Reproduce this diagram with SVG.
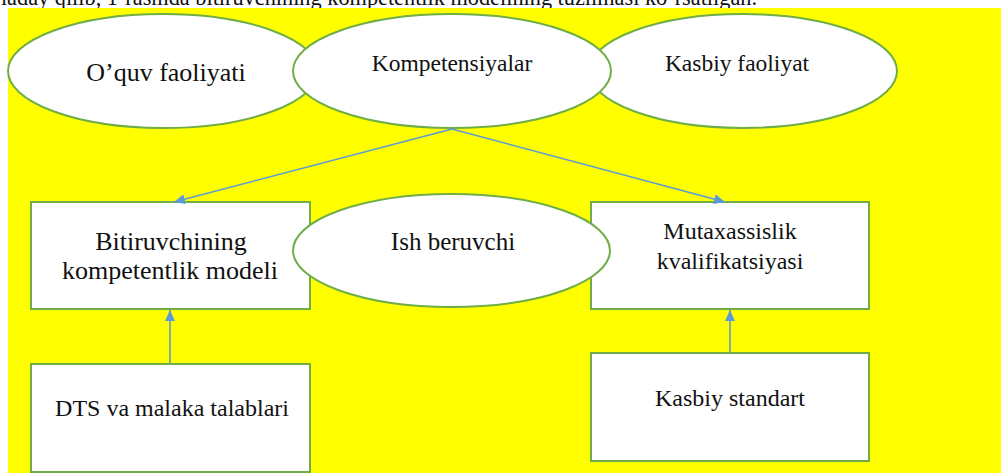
<svg xmlns="http://www.w3.org/2000/svg" width="1001" height="473" viewBox="0 0 1001 473">
<style>
.sh{fill:#fff;stroke:#70AD47;stroke-width:2}
.t{font-family:'Liberation Serif','Times New Roman',serif;fill:#111;text-anchor:middle}
.cn{stroke:#5B9BD5;stroke-width:1.6;fill:none;marker-end:url(#ah)}
</style>
<defs>
<marker id="ah" markerUnits="userSpaceOnUse" markerWidth="12" markerHeight="10" refX="11" refY="5" orient="auto">
<path d="M0,0 L11,5 L0,10 z" fill="#5B9BD5"/>
</marker>
</defs>
<rect width="1001" height="473" fill="#fff"/>
<text class="t" x="757" y="5" font-size="22.3" style="text-anchor:end">laday qilib, 1-rasmda bitiruvchining kompetentlik modelining tuzilmasi ko’rsatilgan.</text>
<rect x="8" y="8" width="993" height="465" fill="#FFFF00"/>
<g id="oquv">
<ellipse class="sh" cx="163" cy="71" rx="155" ry="57"/>
<text class="t" x="166" y="81" font-size="26">O’quv faoliyati</text>
</g>
<g id="kasbiy-faoliyat">
<ellipse class="sh" cx="743" cy="71" rx="154" ry="57"/>
<text class="t" x="737" y="71" font-size="23.5">Kasbiy faoliyat</text>
</g>
<g id="kompetensiyalar">
<ellipse class="sh" cx="452" cy="71" rx="159" ry="57"/>
<text class="t" x="452" y="71" font-size="23.5">Kompetensiyalar</text>
</g>
<g id="bitiruvchi">
<rect class="sh" x="31" y="202" width="279" height="107"/>
<text class="t" x="171" y="250" font-size="26">Bitiruvchining</text>
<text class="t" x="170" y="279" font-size="26">kompetentlik modeli</text>
</g>
<g id="mutaxassislik">
<rect class="sh" x="591" y="202" width="278" height="107"/>
<text class="t" x="730" y="239" font-size="24">Mutaxassislik</text>
<text class="t" x="730" y="269" font-size="24">kvalifikatsiyasi</text>
</g>
<g id="ish-beruvchi">
<ellipse class="sh" cx="451.5" cy="250.5" rx="158.5" ry="56.5"/>
<text class="t" x="453" y="250" font-size="25">Ish beruvchi</text>
</g>
<g id="dts">
<rect class="sh" x="31" y="364" width="279" height="108"/>
<text class="t" x="172" y="416" font-size="24">DTS va malaka talablari</text>
</g>
<g id="kasbiy-standart">
<rect class="sh" x="591" y="353" width="278" height="108"/>
<text class="t" x="730" y="406" font-size="24">Kasbiy standart</text>
</g>
<g id="connectors">
<line class="cn" x1="452" y1="129" x2="174" y2="202"/>
<line class="cn" x1="452" y1="129" x2="725" y2="202"/>
<line class="cn" x1="170" y1="363" x2="170" y2="310"/>
<line class="cn" x1="730" y1="352" x2="730" y2="310"/>
</g>
</svg>
